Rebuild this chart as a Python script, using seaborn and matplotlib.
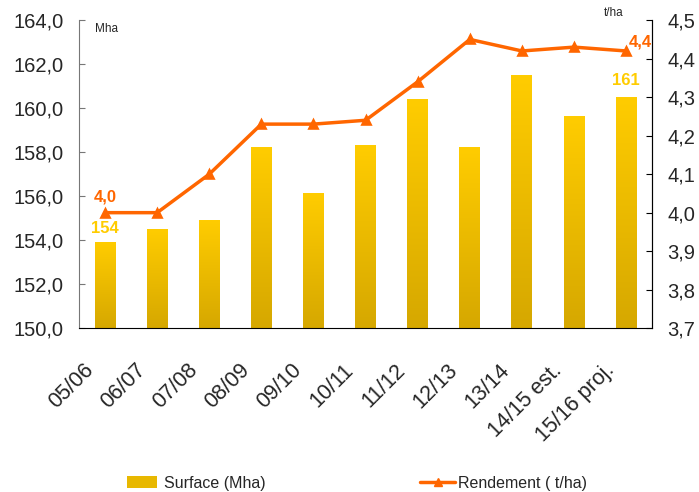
import numpy as np
import pandas as pd
import matplotlib
matplotlib.use('Agg')
import matplotlib.pyplot as plt
import matplotlib.transforms as mtransforms
import seaborn as sns
from matplotlib.patches import Patch
from matplotlib.lines import Line2D
from matplotlib.colors import LinearSegmentedColormap

# --- Data --- #
campagnes = ['05/06', '06/07', '07/08', '08/09', '09/10', '10/11',
             '11/12', '12/13', '13/14', '14/15 est.', '15/16 proj.']
surface = [153.9, 154.5, 154.9, 158.2, 156.1, 158.3, 160.4, 158.2, 161.5, 159.6, 160.5]
rendement = [4.00, 4.00, 4.10, 4.23, 4.23, 4.24, 4.34, 4.45, 4.42, 4.43, 4.42]

df = pd.DataFrame({'campagne': campagnes, 'surface': surface, 'rendement': rendement})

sns.set_style('white')
plt.rcParams['font.family'] = ['Liberation Sans', 'DejaVu Sans']

orange = '#FF6600'
gold = '#FFCC00'
ymin, ymax = 150, 164

fig = plt.figure(figsize=(6.99, 4.92), dpi=100)
ax = fig.add_axes([0.113, 0.333, 0.82, 0.626])

sns.barplot(data=df, x='campagne', y='surface', ax=ax, color=gold, width=0.4, saturation=1)

# gradient fill on the visible part of each bar
grad = LinearSegmentedColormap.from_list('g', ['#D6A800', '#FFCC00'])
for p in ax.patches:
    x0, w, top = p.get_x(), p.get_width(), p.get_y() + p.get_height()
    ax.imshow(np.linspace(0, 1, 100).reshape(-1, 1), cmap=grad, origin='lower',
              extent=[x0, x0 + w, ymin, top], aspect='auto', zorder=2)
    p.set_visible(False)
ax.set_aspect('auto')
ax.set_xlim(-0.5, len(campagnes) - 0.5)
ax.set_ylim(ymin, ymax)

ax2 = ax.twinx()
sns.pointplot(data=df, x='campagne', y='rendement', ax=ax2, color=orange,
              markers='^', markersize=6, linewidth=2.5)
ax2.set_ylim(3.7, 4.5)
ax2.set_xlim(-0.5, len(campagnes) - 0.5)

# axes styling
lticks = np.arange(150, 164.1, 2)
rticks = np.arange(3.7, 4.51, 0.1)
ax.set_yticks(lticks)
ax.set_yticklabels([f'{v:.1f}'.replace('.', ',') for v in lticks], fontsize=14.5)
ax2.set_yticks(rticks)
ax2.set_yticklabels([f'{v:.1f}'.replace('.', ',') for v in rticks], fontsize=14.5)
ax.set_xticks(range(len(campagnes)))
ax.set_xticklabels(campagnes, rotation=45, ha='right', va='center',
                   rotation_mode='anchor', fontsize=15.5)
ax.set_xticks(np.arange(0.5, len(campagnes) - 1, 1), minor=True)
ax.tick_params(axis='x', which='major', length=0, pad=28)
ax.tick_params(axis='x', which='minor', length=4, direction='in', color='#555555')
ax.tick_params(axis='y', length=4, direction='in', color='#777777', pad=11)
ax2.tick_params(axis='y', length=4, direction='in', color='black', pad=11)

# nudge the rotated labels left (after tick_params, which resets transforms)
shift = mtransforms.ScaledTranslation(-0.15, 0, fig.dpi_scale_trans)
for lab in ax.get_xticklabels():
    lab.set_transform(lab.get_transform() + shift)

for a in (ax, ax2):
    a.set_xlabel('')
    a.set_ylabel('')
    a.spines['top'].set_visible(False)
ax.spines['left'].set_color('#777777')
ax.spines['bottom'].set_color('black')
ax2.spines['right'].set_color('black')
ax2.spines['left'].set_visible(False)
ax2.spines['bottom'].set_visible(False)

# unit labels
ax.text(0.028, 0.99, 'Mha', transform=ax.transAxes, fontsize=8.5, va='top')
ax.text(0.915, 1.005, 't/ha', transform=ax.transAxes, fontsize=8.5, va='bottom')

# value labels
ax2.text(0, rendement[0] + 0.02, '4,0', color=orange, fontsize=12, fontweight='bold',
         ha='center', va='bottom')
ax.text(0, surface[0] + 0.3, '154', color=gold, fontsize=12, fontweight='bold',
        ha='center', va='bottom')
ax2.text(10.05, rendement[-1] + 0.005, '4,4', color=orange, fontsize=12, fontweight='bold',
         ha='left', va='bottom')
ax.text(10, surface[-1] + 0.4, '161', color=gold, fontsize=12, fontweight='bold',
        ha='center', va='bottom')

h_surf = Patch(facecolor='#E8B800', edgecolor='none', label='Surface (Mha)')
h_rend = Line2D([0], [0], color=orange, lw=2.5, marker='^', markersize=6,
                label='Rendement ( t/ha)')
fig.legend(handles=[h_surf], loc='center left', bbox_to_anchor=(127 / 699, 0.018),
           frameon=False, fontsize=11.5, handlelength=1.9, handletextpad=0.4,
           borderpad=0, borderaxespad=0)
fig.legend(handles=[h_rend], loc='center left', bbox_to_anchor=(420 / 699, 0.018),
           frameon=False, fontsize=11.5, handlelength=2.2, handletextpad=0.2,
           borderpad=0, borderaxespad=0)

fig.savefig('out.png', dpi=100)
